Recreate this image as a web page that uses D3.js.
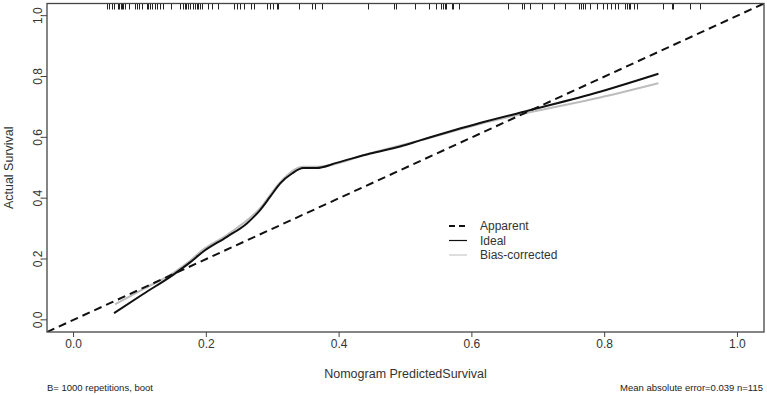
<!DOCTYPE html>
<html lang="en">
<head>
    <meta charset="UTF-8">
    <title>Calibration curve</title>
    <script src="https://d3js.org/d3.v7.min.js"></script>
    <style>
        body {
            margin: 0;
            background-color: #fff;
            font-family: Arial, "Liberation Sans", sans-serif;
        }
        .frame {
            fill: none;
            stroke: #444;
            stroke-width: 1.3px;
        }
        .tick-label {
            font-size: 12px;
            fill: #333;
        }
        .axis-title {
            font-size: 12.5px;
            fill: #333;
        }
        .note {
            font-size: 9.5px;
            fill: #222;
        }
        .legend text {
            font-size: 12px;
            fill: #333;
        }
    </style>
</head>
<body>
<div id="chart"></div>

<script>
    // x positions of the rug at the top (predicted survival)
    const rugValues = [
        0.050, 0.054, 0.058, 0.061, 0.067, 0.069, 0.071, 0.073, 0.075, 0.078,
        0.084, 0.093, 0.096, 0.099, 0.103, 0.110, 0.112, 0.115, 0.118, 0.123,
        0.125, 0.130, 0.135, 0.147, 0.160, 0.165, 0.168, 0.170, 0.173, 0.175,
        0.180, 0.183, 0.186, 0.188, 0.191, 0.193, 0.202, 0.208, 0.218, 0.241,
        0.246, 0.250, 0.256, 0.268, 0.272, 0.291, 0.296, 0.301, 0.306, 0.308,
        0.339, 0.359, 0.364, 0.374, 0.443, 0.483, 0.485, 0.514, 0.536, 0.546,
        0.554, 0.556, 0.559, 0.561, 0.570, 0.572, 0.581, 0.655, 0.675, 0.678,
        0.688, 0.705, 0.723, 0.740, 0.761, 0.764, 0.768, 0.770, 0.778, 0.788,
        0.798, 0.803, 0.809, 0.816, 0.820, 0.831, 0.833, 0.836, 0.838, 0.844,
        0.849, 0.888, 0.901, 0.903, 0.928, 0.943
    ];

    // solid black curve ("Ideal")
    const idealX = [0.061, 0.105, 0.150, 0.175, 0.195, 0.231, 0.261, 0.281, 0.296, 0.311, 0.329,
                    0.346, 0.366, 0.396, 0.447, 0.492, 0.522, 0.612, 0.687, 0.793, 0.881];
    const idealY = [0.022, 0.085, 0.148, 0.188, 0.224, 0.273, 0.317, 0.361, 0.404, 0.448, 0.481,
                    0.499, 0.499, 0.516, 0.547, 0.570, 0.590, 0.647, 0.689, 0.750, 0.809];

    // grey curve ("Bias-corrected")
    const biasX = [0.0625, 0.105, 0.150, 0.175, 0.195, 0.231, 0.281, 0.311, 0.346, 0.366, 0.447, 0.522,
                   0.612, 0.687, 0.793, 0.881];
    const biasY = [0.051, 0.101, 0.154, 0.193, 0.231, 0.279, 0.367, 0.452, 0.503, 0.503, 0.548, 0.590,
                   0.644, 0.682, 0.731, 0.778];

    // dashed diagonal ("Apparent")
    const apparentX = [-0.04, 1.04];
    const apparentY = [-0.04, 1.04];

    const tickValues = [0, 0.2, 0.4, 0.6, 0.8, 1.0];
    const legendLabels = ["Apparent", "Ideal", "Bias-corrected"];

    const width = 767, height = 395;
    const margin = {top: 3.5, right: 3, bottom: 63, left: 47};

    const svg = d3.select("#chart")
        .append("svg")
        .attr("width", width)
        .attr("height", height);

    const x = d3.scaleLinear().domain([-0.04, 1.04]).range([margin.left, width - margin.right]);
    const y = d3.scaleLinear().domain([-0.04, 1.04]).range([height - margin.bottom, margin.top]);

    svg.append("clipPath")
        .attr("id", "plot-clip")
        .append("rect")
        .attr("x", x(-0.04))
        .attr("y", y(1.04))
        .attr("width", x(1.04) - x(-0.04))
        .attr("height", y(-0.04) - y(1.04));

    const plot = svg.append("g").attr("clip-path", "url(#plot-clip)");

    const line = d3.line().x(d => x(d[0])).y(d => y(d[1]));
    const smooth = d3.line().x(d => x(d[0])).y(d => y(d[1])).curve(d3.curveMonotoneX);

    // grey curve
    plot.append("path")
        .datum(d3.zip(biasX, biasY))
        .attr("d", smooth)
        .attr("fill", "none")
        .attr("stroke", "#bdbdbd")
        .attr("stroke-width", 2);

    // black curve
    plot.append("path")
        .datum(d3.zip(idealX, idealY))
        .attr("d", smooth)
        .attr("fill", "none")
        .attr("stroke", "#111")
        .attr("stroke-width", 2);

    // diagonal
    plot.append("path")
        .datum(d3.zip(apparentX, apparentY))
        .attr("d", line)
        .attr("fill", "none")
        .attr("stroke", "#111")
        .attr("stroke-width", 2)
        .attr("stroke-dasharray", "8,5");

    // rug along the top
    plot.selectAll(".rug")
        .data(rugValues)
        .enter()
        .append("line")
        .attr("class", "rug")
        .attr("x1", d => Math.round(x(d)) + 0.5)
        .attr("x2", d => Math.round(x(d)) + 0.5)
        .attr("y1", y(1.04))
        .attr("y2", y(1.04) + 6)
        .attr("stroke", "#222")
        .attr("stroke-width", 1);

    // box
    svg.append("rect")
        .attr("class", "frame")
        .attr("x", x(-0.04))
        .attr("y", y(1.04))
        .attr("width", x(1.04) - x(-0.04))
        .attr("height", y(-0.04) - y(1.04));

    // x axis ticks
    const xb = y(-0.04);
    svg.selectAll(".xtick")
        .data(tickValues)
        .enter()
        .append("line")
        .attr("x1", d => x(d))
        .attr("x2", d => x(d))
        .attr("y1", xb)
        .attr("y2", xb + 5)
        .attr("stroke", "#444");

    svg.selectAll(".xlab")
        .data(tickValues)
        .enter()
        .append("text")
        .attr("class", "tick-label")
        .attr("x", d => x(d))
        .attr("y", xb + 16)
        .attr("text-anchor", "middle")
        .text(d => d3.format(".1f")(d));

    // y axis ticks
    const yl = x(-0.04);
    svg.selectAll(".ytick")
        .data(tickValues)
        .enter()
        .append("line")
        .attr("x1", yl - 5)
        .attr("x2", yl)
        .attr("y1", d => y(d))
        .attr("y2", d => y(d))
        .attr("stroke", "#444");

    svg.selectAll(".ylab")
        .data(tickValues)
        .enter()
        .append("text")
        .attr("class", "tick-label")
        .attr("transform", d => `translate(${yl - 5},${y(d)}) rotate(-90)`)
        .attr("text-anchor", "middle")
        .text(d => d3.format(".1f")(d));

    // axis titles
    svg.append("text")
        .attr("class", "axis-title")
        .attr("x", (x(-0.04) + x(1.04)) / 2)
        .attr("y", 378)
        .attr("text-anchor", "middle")
        .text("Nomogram PredictedSurvival");

    svg.append("text")
        .attr("class", "axis-title")
        .attr("transform", `translate(13,${(y(-0.04) + y(1.04)) / 2}) rotate(-90)`)
        .attr("text-anchor", "middle")
        .text("Actual Survival");

    // notes under the plot
    svg.append("text")
        .attr("class", "note")
        .attr("x", 47)
        .attr("y", 391)
        .text("B= 1000 repetitions, boot");

    svg.append("text")
        .attr("class", "note")
        .attr("x", 763)
        .attr("y", 391)
        .attr("text-anchor", "end")
        .text("Mean absolute error=0.039 n=115");

    // legend
    const legendStyles = [
        {stroke: "#111", dash: "6,4", width: 2},
        {stroke: "#111", dash: null, width: 1.2},
        {stroke: "#c8c8c8", dash: null, width: 1.2}
    ];
    const legend = svg.append("g")
        .attr("class", "legend")
        .attr("transform", "translate(449,226)");

    legendLabels.forEach((label, i) => {
        const g = legend.append("g").attr("transform", `translate(0,${i * 14.5})`);
        g.append("line")
            .attr("x1", 0)
            .attr("x2", 18)
            .attr("stroke", legendStyles[i].stroke)
            .attr("stroke-width", legendStyles[i].width)
            .attr("stroke-dasharray", legendStyles[i].dash);
        g.append("text")
            .attr("x", 31)
            .attr("y", 4)
            .text(label);
    });
</script>
</body>
</html>
